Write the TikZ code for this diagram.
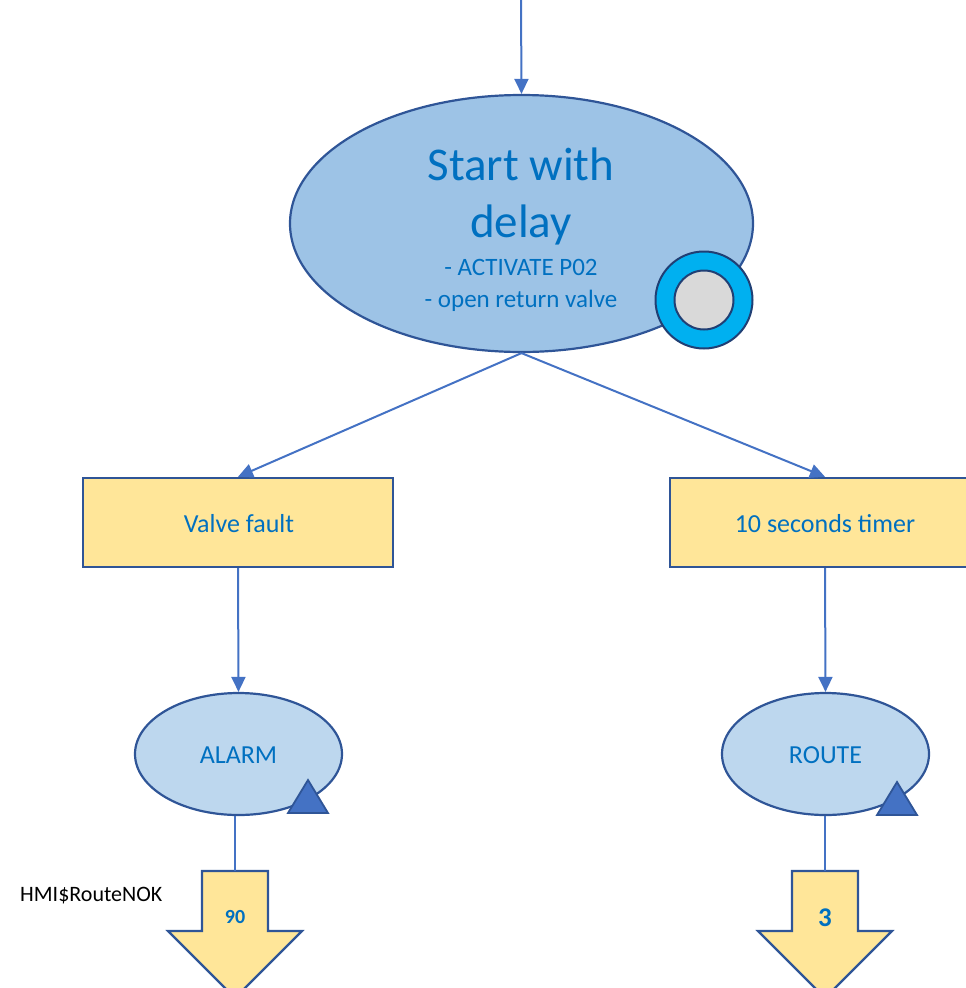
\documentclass[tikz,border=0pt]{standalone}
\usepackage{fontspec}
\setmainfont{Carlito}
\usetikzlibrary{shapes.geometric,arrows.meta}
\definecolor{conn}{HTML}{4472C4}
\definecolor{bord}{HTML}{2F5597}
\definecolor{txt}{HTML}{0070C0}
\definecolor{mainfill}{HTML}{9DC3E6}
\definecolor{smallfill}{HTML}{BDD7EE}
\definecolor{rectfill}{HTML}{FFE699}
\definecolor{ringfill}{HTML}{00B0F0}
\definecolor{greyfill}{HTML}{D9D9D9}
\definecolor{ringbord}{HTML}{203F74}
\tikzset{
  arr/.style={draw=conn,line width=2pt,-{Triangle[length=15pt,width=14pt]}},
  plain/.style={draw=conn,line width=2pt},
  bigell/.style={ellipse,draw=bord,fill=mainfill,line width=2.2pt,inner sep=0pt,minimum width=463pt,minimum height=257pt},
  smallell/.style={ellipse,draw=bord,fill=smallfill,line width=2.2pt,inner sep=0pt,minimum width=207pt,minimum height=122pt},
  condbox/.style={rectangle,draw=bord,fill=rectfill,line width=2.4pt,inner sep=0pt,minimum width=310pt,minimum height=89pt},
  tri/.style={draw=bord,fill=conn,line width=1.8pt,line join=miter},
  blockarrow/.style={draw=bord,fill=rectfill,line width=2.2pt,line join=miter},
  lbl/.style={text=txt,font=\fontsize{26}{31}\selectfont,inner sep=0pt,anchor=base},
  numlbl/.style={text=txt,font=\fontsize{20}{24}\selectfont\bfseries,inner sep=0pt,anchor=base},
}
\begin{document}
\begin{tikzpicture}[x=1pt,y=-1pt]
\useasboundingbox (0,0) rectangle (966,988);
% main state
\node[bigell] (main) at (521.5,223.5) {};
\node[lbl,font=\fontsize{47}{56}\selectfont] (t1) at (521,180) {Start with};
\node[lbl,font=\fontsize{47}{56}\selectfont] (t2) at (521,237) {delay};
\node[lbl,font=\fontsize{25}{30}\selectfont] (t3) at (521,275) {- ACTIVATE P02};
\node[lbl,font=\fontsize{25}{30}\selectfont] (t4) at (521,307) {- open return valve};
\node[circle,draw=ringbord,fill=ringfill,line width=2pt,minimum size=97pt,inner sep=0pt] (ring) at (704,300) {};
\node[circle,draw=ringbord,fill=greyfill,line width=2pt,minimum size=59pt,inner sep=0pt] (core) at (704,300) {};
% entry
\coordinate (entry) at (521,0);
\draw[arr] (entry) -- (main.north);
% transitions
\node[condbox] (vf) at (238,522.5) {};
\node[lbl] (vft) at (239,532) {Valve fault};
\node[condbox] (tm) at (825,522.5) {};
\node[lbl] (tmt) at (825,532) {10 seconds timer};
\draw[arr] (main.south) -- (vf.north);
\draw[arr] (main.south) -- (tm.north);
% states
\node[smallell] (alarm) at (238.5,754) {};
\node[lbl] (alarmt) at (238.5,763) {ALARM};
\node[smallell] (route) at (825.5,754) {};
\node[lbl] (routet) at (825.5,763) {ROUTE};
\draw[arr] (vf.south) -- (alarm.north);
\draw[arr] (tm.south) -- (route.north);
\draw[tri] (288,813) -- (308,780) -- (328,813) -- cycle;
\draw[tri] (877,815) -- (897,782) -- (917,815) -- cycle;
% block arrows
\coordinate (ba1) at (235,871);
\coordinate (ba2) at (825,871);
\draw[blockarrow] (202,871) -- (268,871) -- (268,931) -- (302,931) -- (235,998) -- (168,931) -- (202,931) -- cycle;
\draw[blockarrow] (792,871) -- (858,871) -- (858,931) -- (892,931) -- (825,998) -- (758,931) -- (792,931) -- cycle;
\draw[plain] (alarm.south -| ba1) -- (ba1);
\draw[plain] (route.south -| ba2) -- (ba2);
\node[numlbl] (n90) at (235,923) {90};
\node[numlbl,font=\fontsize{27}{30}\selectfont\bfseries] (n3) at (825,926) {3};
\node[font=\fontsize{22}{26}\selectfont,text=black,inner sep=0pt,anchor=base west] (hmi) at (20,901) {HMI\$RouteNOK};
\end{tikzpicture}
\end{document}
